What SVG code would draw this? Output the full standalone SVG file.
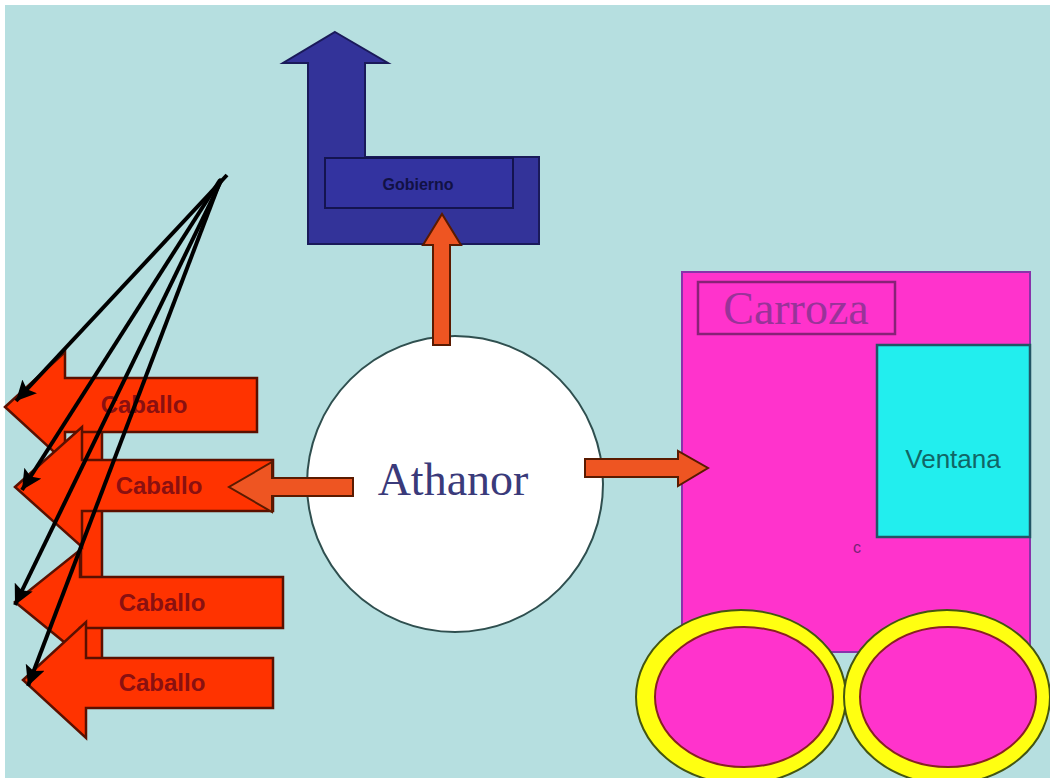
<svg xmlns="http://www.w3.org/2000/svg" width="1050" height="778" viewBox="0 0 1050 778">
<defs>
<style>
.org{fill:#ee5522;stroke:#5a1a00;stroke-width:2}
.cab{fill:#ff3300;stroke:#5a1000;stroke-width:2.5}
.cabt{font-family:"Liberation Sans",Arial,sans-serif;font-size:24px;font-weight:bold;fill:#8a1010;text-anchor:middle}
.blk{stroke:#000;stroke-width:4;fill:none}
</style>
<marker id="ah" markerUnits="userSpaceOnUse" markerWidth="24" markerHeight="20" refX="20" refY="10" orient="auto">
<path d="M0,0 L20,10 L0,20 L4,10 Z" fill="#000"/>
</marker>
</defs>
<rect x="0" y="0" width="1050" height="778" fill="#ffffff"/>
<rect x="5" y="5" width="1045" height="773" fill="#b6dfe0"/>

<g id="gobierno">
<path d="M335,32 L388,63 L365,63 L365,157 L539,157 L539,244 L308,244 L308,63 L283,63 Z" fill="#333399" stroke="#1a1a5a" stroke-width="2"/>
<rect x="325" y="158" width="188" height="50" fill="#3333a0" stroke="#141450" stroke-width="2"/>
<text x="418" y="190" font-family="'Liberation Sans',Arial,sans-serif" font-size="16" font-weight="bold" fill="#111144" text-anchor="middle">Gobierno</text>
</g>

<g id="carroza">
<rect x="682" y="272" width="348" height="380" fill="#ff33cc" stroke="#8833aa" stroke-width="2"/>
<rect x="698" y="282" width="197" height="52" fill="#ff33cc" stroke="#882277" stroke-width="2.5"/>
<text x="796" y="324" font-family="'Liberation Serif','Times New Roman',serif" font-size="46" fill="#993399" text-anchor="middle">Carroza</text>
<text x="857" y="553" font-family="'Liberation Sans',Arial,sans-serif" font-size="16" fill="#772277" text-anchor="middle">c</text>
</g>

<g id="ventana">
<rect x="877" y="345" width="153" height="192" fill="#22eeee" stroke="#225566" stroke-width="2.5"/>
<text x="953" y="468" font-family="'Liberation Sans',Arial,sans-serif" font-size="26" fill="#116666" text-anchor="middle">Ventana</text>
</g>

<g id="rueda1">
<ellipse cx="741" cy="697" rx="105" ry="87" fill="#ffff11" stroke="#445511" stroke-width="2"/>
<ellipse cx="744" cy="697" rx="89" ry="70" fill="#ff33cc" stroke="#882222" stroke-width="2"/>
</g>
<g id="rueda2">
<ellipse cx="947" cy="697" rx="103" ry="87" fill="#ffff11" stroke="#445511" stroke-width="2"/>
<ellipse cx="948" cy="697" rx="88" ry="70" fill="#ff33cc" stroke="#882222" stroke-width="2"/>
</g>

<g id="athanor">
<circle cx="455" cy="484" r="148" fill="#ffffff" stroke="#2f4f4f" stroke-width="2"/>
<text x="453" y="495" font-family="'Liberation Serif','Times New Roman',serif" font-size="46" fill="#3a3a7a" text-anchor="middle">Athanor</text>
</g>

<g id="caballos">
<rect x="81" y="425" width="21" height="240" class="cab"/>
<g id="caballo1">
<path d="M5,407 L65,352 L65,378 L257,378 L257,432 L65,432 L65,462 Z" class="cab"/>
<text x="144" y="413" class="cabt">Caballo</text>
</g>
<g id="caballo2">
<path d="M15,487 L82,427 L82,460 L273,460 L273,511 L82,511 L82,547 Z" class="cab"/>
<text x="159" y="494" class="cabt">Caballo</text>
</g>
<g id="caballo3">
<path d="M15,602 L80,550 L80,577 L283,577 L283,628 L80,628 L80,655 Z" class="cab"/>
<text x="162" y="611" class="cabt">Caballo</text>
</g>
<g id="caballo4">
<path d="M23,680 L86,622 L86,658 L273,658 L273,708 L86,708 L86,738 Z" class="cab"/>
<text x="162" y="691" class="cabt">Caballo</text>
</g>
</g>

<g id="connectors">
<path class="org" d="M433,345 L433,245 L423,245 L442,214 L461,245 L450,245 L450,345 Z"/>
<path class="org" d="M353,478 L272,478 L272,462 L229,487 L272,512 L272,496 L353,496 Z"/>
<path class="org" d="M585,459 L678,459 L678,451 L708,468 L678,486 L678,477 L585,477 Z"/>
<line class="blk" x1="227" y1="175" x2="16" y2="401" marker-end="url(#ah)"/>
<line class="blk" x1="220" y1="180" x2="22" y2="490" marker-end="url(#ah)"/>
<line class="blk" x1="222" y1="179" x2="15" y2="605" marker-end="url(#ah)"/>
<line class="blk" x1="221" y1="179" x2="28" y2="686" marker-end="url(#ah)"/>
</g>
</svg>
